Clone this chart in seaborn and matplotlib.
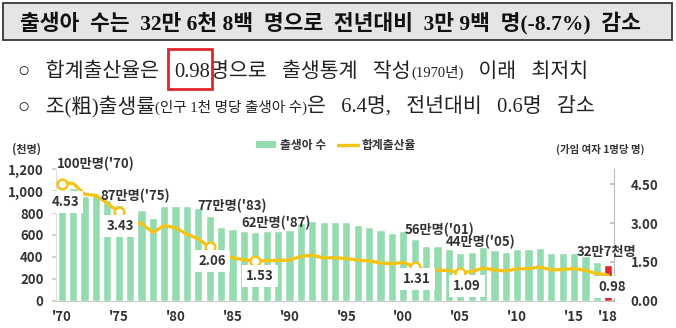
import matplotlib
matplotlib.use("Agg")
import matplotlib.pyplot as plt
from matplotlib.patches import Rectangle, Patch
from matplotlib.lines import Line2D
import numpy as np
import pandas as pd
import seaborn as sns

# ---- data -------------------------------------------------------------
years = list(range(1970, 2019))
births = [1006.6, 1024.8, 952.8, 965.5, 922.8, 874.0, 796.3, 825.3, 750.7, 862.7,
          862.8, 867.4, 848.3, 769.2, 674.8, 655.5, 636.0, 623.8, 633.1, 639.4,
          649.7, 709.3, 730.7, 715.8, 721.2, 715.0, 691.2, 675.4, 641.6, 620.7,
          640.1, 559.9, 496.9, 495.0, 476.0, 435.0, 448.2, 493.2, 465.9, 444.8,
          470.2, 471.3, 484.6, 436.5, 435.4, 438.4, 406.2, 357.8, 326.8]
tfr = [4.53, 4.54, 4.12, 4.07, 3.77, 3.43, 3.00, 2.99, 2.64, 2.90,
       2.82, 2.57, 2.39, 2.06, 1.74, 1.66, 1.58, 1.53, 1.55, 1.56,
       1.57, 1.71, 1.76, 1.65, 1.66, 1.63, 1.57, 1.54, 1.46, 1.43,
       1.48, 1.31, 1.18, 1.19, 1.16, 1.09, 1.13, 1.26, 1.19, 1.15,
       1.23, 1.24, 1.30, 1.19, 1.21, 1.24, 1.17, 1.05, 0.98]
tick_years = [1970, 1975, 1980, 1985, 1990, 1995, 2000, 2005, 2010, 2015, 2018]
tick_labels = ["'70", "'75", "'80", "'85", "'90", "'95", "'00", "'05", "'10", "'15", "'18"]
left_ticks = [0, 200, 400, 600, 800, 1000, 1200]
right_ticks = [0.0, 1.5, 3.0, 4.5]
circle_years = [1970, 1975, 1983, 1987, 2001, 2005]
birth_notes = [(1970, "100만명('70)"), (1975, "87만명('75)"), (1983, "77만명('83)"),
               (1987, "62만명('87)"), (2001, "56만명('01)"), (2005, "44만명('05)"),
               (2018, "32만7천명")]
tfr_notes = [1970, 1975, 1983, 1987, 2001, 2005, 2018]

df = pd.DataFrame({"year": years, "births": births, "tfr": tfr})
df["pos"] = np.arange(len(df))

GREEN = "#95dbb0"
GOLD = "#f3c416"
RED = "#e3262b"
TXT = "#333333"
DOC = ["Liberation Serif", "Noto Sans CJK KR"]

W, H = 676, 328
sns.set_theme(style="white")
plt.rcParams["font.family"] = ["Noto Sans CJK KR", "DejaVu Sans"]
fig = plt.figure(figsize=(W / 100, H / 100), dpi=100)
renderer = fig.canvas.get_renderer()


def fx(px):
    return px / W


def fy(py):
    return 1 - py / H


def text_runs(x_px, base_px, parts):
    """Draw consecutive text pieces on one baseline; return their extents."""
    x = x_px
    boxes = []
    for s, kw in parts:
        t = fig.text(fx(x), fy(base_px), s, ha="left", va="baseline", **kw)
        bb = t.get_window_extent(renderer)
        boxes.append(bb)
        x += bb.width
    return boxes


# ---- header -----------------------------------------------------------
fig.patches.append(Rectangle((fx(3), fy(40)), fx(669), 37 / H, transform=fig.transFigure,
                             facecolor="#e5e5e5", edgecolor="#444444", lw=1.4, zorder=0))
tb = dict(family=DOC, fontsize=15.5, weight="bold", color="#111111")
text_runs(20, 29, [("출생아  수는  32만 6천 8백  명으로  전년대비  3만 9백  명(-8.7%)  감소", tb)])

nb = dict(family=DOC, fontsize=14.8, color="#222222")
sm = dict(family=DOC, fontsize=10.5, color="#222222")
b1 = text_runs(18, 77, [("○   합계출산율은   ", nb), ("0.98", nb),
                        ("명으로   출생통계   작성", nb), ("(1970년)", sm), ("   이래   최저치", nb)])
r = b1[1]
fig.patches.append(Rectangle(((r.x0 - 6) / W, fy(89)), (r.width + 8) / W, 40 / H,
                             transform=fig.transFigure, fill=False,
                             edgecolor=RED, lw=2, zorder=5))
text_runs(18, 112, [("○   조(粗)출생률", nb), ("(인구 1천 명당 출생아 수)", sm),
                    ("은   6.4명,   전년대비   0.6명   감소", nb)])

# ---- chart ------------------------------------------------------------
ax = fig.add_axes([fx(56), fy(300.7), fx(558), (300.7 - 169.3) / H])
colors = [GREEN] * (len(years) - 1) + [RED]
sns.barplot(data=df, x="year", y="births", hue="year", palette=colors, legend=False,
            width=0.72, saturation=1, ax=ax, zorder=1)
ax.set_xlim(-0.5, len(years) - 0.5)
ax.set_ylim(0, 1200)
ax.set_xlabel("")
ax.set_ylabel("")
ax.set_xticks([years.index(y) for y in tick_years])
ax.set_xticklabels(tick_labels)
ax.set_yticks(left_ticks)
ax.set_yticklabels([f"{v:,}" for v in left_ticks])
ax.tick_params(axis="x", length=0, pad=7, labelsize=9.5, labelcolor=TXT)
ax.tick_params(axis="y", length=3, color="#cccccc", pad=6, labelsize=9.5, labelcolor=TXT)
for lab in ax.get_xticklabels() + ax.get_yticklabels():
    lab.set_fontweight("bold")
for side in ["top", "right"]:
    ax.spines[side].set_visible(False)
ax.spines["left"].set_color("#dddddd")
ax.spines["bottom"].set_color("#cccccc")
ax.spines["left"].set_linewidth(0.8)
ax.spines["bottom"].set_linewidth(0.8)

ax2 = ax.twinx()
sns.lineplot(data=df, x="pos", y="tfr", color=GOLD, lw=2.4, ax=ax2, zorder=3)
circ = df[df["year"].isin(circle_years)]
ax2.plot(circ["pos"], circ["tfr"], "o", ms=7, mfc="white", mec=GOLD, mew=1.8, zorder=4)
ax2.set_ylim(0, 5.08)
ax2.set_xlim(-0.5, len(years) - 0.5)
ax2.set_ylabel("")
ax2.set_xlabel("")
ax2.set_yticks(right_ticks)
ax2.set_yticklabels([f"{v:.2f}" for v in right_ticks])
ax2.tick_params(axis="y", direction="in", length=3, color="#bbbbbb", pad=12,
                labelsize=9.5, labelcolor=TXT)
for lab in ax2.get_yticklabels():
    lab.set_fontweight("bold")
for side in ["top", "left", "bottom"]:
    ax2.spines[side].set_visible(False)
ax2.spines["right"].set_color("#bbbbbb")
ax2.spines["right"].set_linewidth(0.8)

# annotations: birth counts (left scale) and fertility rates (right scale)
birth_offsets = {1970: (-0.4, 1245, "left"), 1975: (3.4, 960, "left"), 1983: (11.9, 865, "left"),
                 1987: (18.8, 710, "center"), 2001: (33.2, 645, "center"),
                 2005: (36.8, 536, "center"), 2018: (47.8, 448, "center")}
for yr, txt in birth_notes:
    x, y, ha = birth_offsets[yr]
    ax2.text(x, y, txt, transform=ax.transData, ha=ha, va="center", fontsize=9.5,
             weight="bold", color=TXT, clip_on=False, zorder=6)

tfr_offsets = {1970: (0.33, 3.83), 1975: (5.16, 2.89), 1983: (13.2, 1.54), 1987: (17.4, 0.97),
               2001: (31.2, 0.84), 2005: (35.6, 0.58), 2018: (48.3, 0.52)}
for yr in tfr_notes:
    x, y = tfr_offsets[yr]
    v = df.loc[df["year"] == yr, "tfr"].iloc[0]
    ax2.text(x, y, f"{v:.2f}", ha="center", va="center", fontsize=9.5, weight="bold",
             color=TXT, clip_on=False, zorder=7,
             bbox=dict(boxstyle="square,pad=0.3", facecolor="white", edgecolor="none"))

# units and legend
fig.text(fx(12), fy(149), "(천명)", ha="left", va="center", fontsize=8, weight="bold", color=TXT)
fig.text(fx(645), fy(149), "(가임 여자 1명당 명)", ha="right", va="center", fontsize=7.5,
         weight="bold", color=TXT)
handles = [Patch(facecolor=GREEN, edgecolor="none"), Line2D([], [], color=GOLD, lw=2.5)]
leg = fig.legend(handles, ["출생아 수", "합계출산율"], loc="center", bbox_to_anchor=(fx(336), fy(145)),
                 ncol=2, frameon=False, fontsize=8.5, handlelength=1.7, handleheight=0.5,
                 columnspacing=1.0, handletextpad=0.3)
for t in leg.get_texts():
    t.set_fontweight("bold")
    t.set_color(TXT)

fig.savefig("out.png", dpi=100)
